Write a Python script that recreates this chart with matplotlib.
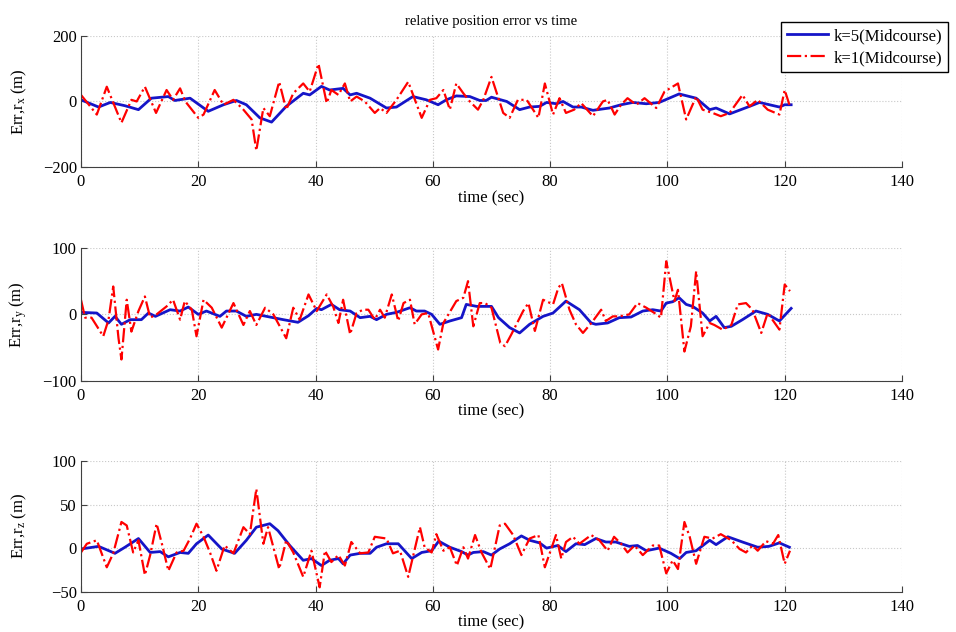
import matplotlib
matplotlib.use("Agg")
import matplotlib.pyplot as plt
import numpy as np

# ---- data (time in sec, error in m) ----
# x component
tx_k5 = [0, 3, 5, 7.5, 9.8, 12, 14.9, 16, 18.6, 21.7, 24.3, 26.5, 28.2, 30.5, 32.5, 35, 37.9, 39, 41,
         42.4, 44.7, 45.9, 47, 49.3, 52.1, 53.8, 56.6, 58.9, 60.9, 62.3, 64, 66.3, 68, 69.1, 70, 72.6,
         74.8, 76.5, 78.2, 79.4, 81.1, 82.2, 83.9, 85.3, 87.3, 90.1, 92.1, 94.1, 96.4, 98.6, 102,
         104.9, 107.2, 108.3, 110.6, 114, 115.7, 119.1, 120, 121.1]
ex_k5 = [5, -17, -3, -13, -25, 10, 15, 3, 10, -30, -10, 3, -10, -50, -63, -15, 25, 20, 46,
         35, 40, 20, 25, 10, -20, -17, 15, 5, -10, 5, 17, 15, 3, 3, 13, 0,
         -25, -17, -15, -3, -7, 0, -17, -17, -27, -20, -10, -3, -7, -3, 23,
         10, -25, -20, -38, -15, -3, -17, -10, -10]
tx_k1 = [0, 2.7, 4.4, 6.9, 8.6, 9.5, 10.9, 12.8, 14.6, 15.7, 16.9, 17.8, 20, 20.9, 22.8, 24.3, 26,
         27.7, 29.1, 29.9, 31.1, 32.2, 33.8, 35, 36.2, 37.9, 39, 40.5, 41.9, 42.7, 43.9, 45, 45.9,
         47, 48.4, 50.1, 51, 52.1, 53.8, 55.8, 58.1, 59.5, 60.6, 61.8, 62.9, 64, 65.2, 66.3, 67.7,
         68.6, 70, 72, 73.1, 74.5, 76, 78, 79.1, 80.5, 81.6, 82.7, 84.1, 85.3, 87.3, 89, 89.8, 91,
         92.1, 93.2, 94.7, 96.1, 98.1, 99.5, 101.8, 103.2, 104.9, 106, 107.7, 109.1, 110.6, 112.8,
         114, 115.4, 117.1, 119.1, 120, 120.8]
ex_k1 = [20, -40, 45, -65, 5, 0, 45, -35, 35, 5, 40, 0, -50, -40, 35, -10, 5,
         -25, -55, -150, -20, -45, 60, -25, 25, 55, 30, 115, -5, 35, 20, 55, 0,
         15, 0, -35, -20, -35, 5, 60, -50, 5, 10, 35, -25, 55, 25, 0, -25,
         5, 75, -35, -50, 5, 5, -50, 55, -40, 10, -35, -25, -5, -45, 0, 5, -40,
         -10, 10, -10, 10, -20, 30, 55, -55, 15, -25, -35, -45, -35, 20,
         -15, 5, -25, -40, 35, -10]

# y component
ty_k5 = [0, 2.7, 4.7, 5.8, 6.9, 8.4, 10.3, 11.5, 12.7, 15.2, 16.9, 18.3, 20, 21.4, 23.7, 24.8, 26.5,
         28.2, 29.9, 32.2, 34.5, 37, 38.8, 40.2, 41, 42.7, 44.1, 45.9, 47.6, 49.3, 50.4, 52.1, 53.8,
         56.1, 57.2, 58.6, 59.8, 61.2, 62.9, 64.9, 65.7, 67.5, 70, 71.2, 73.1, 74.8, 76.5, 78.8,
         80.5, 82.7, 85, 87, 87.8, 89.8, 91.8, 93.8, 95.8, 97.5, 98.9, 99.8, 100.9, 102, 103.2,
         104.3, 106, 107.2, 108.3, 109.7, 110.9, 112.8, 115.1, 117.1, 119.1, 121.1]
ey_k5 = [3, 2, -13, -3, -15, -8, -8, 2, -3, 7, 5, 11, 0, 5, -3, 5, 5,
         -3, 0, -4, -8, -12, -2, 9, 7, 15, 7, 5, -5, -3, -8, 0, 3,
         10, 5, 5, 0, -15, -10, -5, 15, 12, 12, -5, -20, -28, -15, -3,
         2, 20, 7, -13, -15, -13, -5, -4, 5, 7, 5, 17, 19, 25, 15,
         12, 2, -10, -3, -20, -18, -8, 5, 0, -10, 9]
ty_k1 = [0, 0.7, 1.8, 3.8, 4.7, 5.5, 6.4, 6.9, 7.8, 8.6, 9.8, 10.9, 11.8, 12.9, 14.6, 15.7, 16.9,
         17.7, 18.9, 19.7, 20.9, 22.3, 24, 26, 27.7, 28.8, 29.9, 31.4, 32.8, 35, 36.2, 37.3, 38.8,
         40.2, 41.9, 43, 43.9, 44.7, 45.9, 47, 48.1, 49, 50.1, 51, 51.8, 53, 54.1, 55, 56.1, 56.9,
         58.1, 59.2, 60.9, 61.8, 64, 65.2, 66, 66.9, 68, 68.9, 70, 71.5, 72.3, 73.4, 75.4, 76.3,
         77.4, 78.8, 80.5, 81.4, 82, 83.3, 84.4, 85.6, 87.3, 88.7, 89.5, 90.7, 91.8, 93.5, 94.9,
         96.4, 97.8, 98.9, 99.8, 101.2, 101.8, 102.9, 104, 104.9, 106, 107.2, 108, 109.4, 110.9,
         112, 113.4, 114.5, 116, 117.1, 119.1, 120, 120.9]
ey_k1 = [22, -5, -5, -33, -8, 42, -36, -68, 22, -26, 5, 27, -5, 0, 12, 22, -8,
         20, 7, -33, 22, 10, -20, 17, -16, 5, -16, 10, 0, -36, 10, -8, 30,
         5, 30, 12, -13, 22, -30, 2, 7, 7, -8, 7, -5, 30, -10, 17, 22, -15,
         0, 2, -53, -13, 20, 25, 50, -18, 17, 17, 10, -43, -48, -30, 5, 17,
         -25, 22, 15, 40, 47, 7, -15, -28, -10, 7, -10, -3, -3, 0, 17,
         10, 2, -5, 80, 20, 37, -56, -18, 65, -33, -13, -16, -23, -16,
         15, 17, 7, -28, 2, -23, 45, 35]

# z component
tz_k5 = [0, 3, 5.8, 7.5, 9.8, 11.8, 13.5, 14.9, 16.9, 18.3, 19.7, 21.7, 24, 26.2, 28.2, 29.9, 32.2,
         33.6, 35.6, 37.9, 39.3, 41, 42.4, 43.9, 44.7, 45.9, 47.6, 49.3, 50.4, 52.1, 54.1, 56.4,
         58.1, 59.8, 61, 62.9, 64.9, 66, 66.9, 68.6, 70, 71.4, 73.1, 75.1, 76.5, 78.2, 79.4, 81.3,
         82.7, 84.4, 85.9, 87.8, 89.5, 91.2, 93.5, 94.9, 96.4, 98.6, 100.6, 102.1, 103.2, 104.9,
         107.2, 108.3, 110.3, 112.8, 115.4, 117.3, 119.1, 120.8]
ez_k5 = [-1, 2, -6, 1, 11, -5, -4, -10, -5, -6, 5, 15, -1, -6, 9, 24, 28,
         20, 3, -14, -12, -20, -14, -12, -18, -8, -6, -6, 1, 5, 5, -12,
         -5, -3, 8, 1, -4, -8, -5, -4, -8, -1, 5, 14, 9, 6, 0, 3,
         -4, 5, 4, 11, 7, 7, 2, 3, -3, 0, -6, -12, -5, -3,
         9, 4, 13, 7, 1, 2, 6, 1]
tz_k1 = [0, 1, 2.7, 4.4, 5.5, 6.9, 7.8, 8.9, 9.8, 10.9, 11.8, 12.9, 13.8, 14.9, 16.3, 17.5, 18.6,
         19.7, 20.9, 22, 23.1, 24.5, 26, 27.7, 28.8, 29.9, 31.1, 31.9, 33.8, 35, 36.2, 37.9, 39.3,
         40.7, 41.6, 42.7, 43.9, 45, 46.1, 47.6, 49, 50.1, 52.1, 53.2, 54.4, 55.8, 57.8, 58.6, 59.8,
         60.6, 61.8, 62.9, 64.1, 65.2, 66, 67.2, 68.3, 69.8, 71.4, 72.3, 73.7, 75.1, 76.5, 78, 79.1,
         81, 81.9, 82.7, 83.9, 85, 87, 88.4, 89.8, 90.9, 92.1, 93.2, 94.4, 95.8, 97.5, 98.6, 99.8,
         100.9, 101.8, 102.9, 103.8, 104.9, 106.3, 107.7, 109.1, 110.9, 112.3, 113.4, 114.5, 115.4,
         116.8, 118, 118.9, 120, 120.9]
ez_k1 = [-5, 5, 9, -22, -6, 30, 26, -5, 9, -31, -8, 28, 5, -26, -5, -3, 11,
         28, 13, -5, -26, 3, -6, 24, 16, 68, 5, 24, -24, 9, -5, -33, -3,
         -45, -3, -16, -8, -20, 7, -6, -5, 13, 11, -6, -3, -33, 24, 1, -5,
         16, -3, 1, -20, 1, -12, 15, -5, -24, 26, 28, 15, -8, 11, 15, -22,
         15, -12, 7, 13, 5, 15, 9, -3, 13, 5, -5, 3, -8, 3, 3, -29,
         -14, -24, 30, 13, -18, 13, 11, 16, 9, -1, -5, 3, -3,
         8, 5, 15, -18, -3]

series = [
    (tx_k5, ex_k5, tx_k1, ex_k1, r"Err,r$_x$ (m)", [-200, 0, 200], (-200, 200)),
    (ty_k5, ey_k5, ty_k1, ey_k1, r"Err,r$_y$ (m)", [-100, 0, 100], (-100, 100)),
    (tz_k5, ez_k5, tz_k1, ez_k1, r"Err,r$_z$ (m)", [-50, 0, 50, 100], (-50, 100)),
]

plt.rcParams["font.family"] = ["Liberation Serif", "DejaVu Serif"]
plt.rcParams["mathtext.fontset"] = "custom"
plt.rcParams["mathtext.rm"] = "Liberation Serif"
plt.rcParams["mathtext.it"] = "Liberation Serif"

fig = plt.figure(figsize=(9.56, 6.32), dpi=100)
boxes = [[0.0847, 0.7358, 0.8588, 0.2073],
         [0.0847, 0.3976, 0.8588, 0.2100],
         [0.0847, 0.0638, 0.8588, 0.2068]]

blue = "#1515c8"
handles = None
for i, (box, (t5, e5, t1, e1, ylab, yt, ylim)) in enumerate(zip(boxes, series)):
    ax = fig.add_axes(box)
    l5, = ax.plot(t5, e5, color=blue, lw=2.0, label="k=5(Midcourse)")
    l1, = ax.plot(t1, e1, color="red", lw=1.6, ls="-.", label="k=1(Midcourse)")
    handles = [l5, l1]
    ax.set_xlim(0, 140)
    ax.set_ylim(*ylim)
    ax.set_xticks(np.arange(0, 141, 20))
    ax.set_yticks(yt)
    ax.grid(True, ls=":", color="#c8c8c8", lw=0.8)
    for s in ["top", "right"]:
        ax.spines[s].set_visible(False)
    for s in ["left", "bottom"]:
        ax.spines[s].set_color("#404040")
    ax.tick_params(direction="in", length=4, labelsize=12, color="#404040", pad=3)
    ax.tick_params(axis="x", pad=5)
    ax.set_xlabel("time (sec)", fontsize=12, labelpad=0)
    ax.set_ylabel(ylab, fontsize=12)
    ax.yaxis.set_label_coords(-0.063, 0.5)
    if i == 0:
        ax.set_title("relative position error vs time", fontsize=10.5, pad=8)

fig.legend(handles=handles, loc="upper right", bbox_to_anchor=(1.0, 0.978),
           fontsize=12, frameon=True, fancybox=False, edgecolor="black",
           framealpha=1, handlelength=2.5, handletextpad=0.3, borderpad=0.35,
           labelspacing=0.35)

fig.savefig("out.png", dpi=100)
